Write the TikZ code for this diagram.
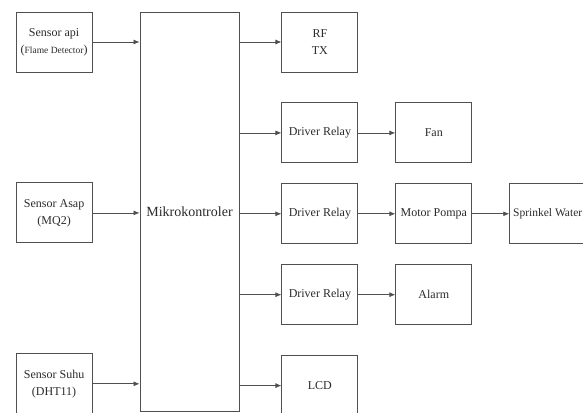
\documentclass[tikz,border=0pt]{standalone}
\usepackage{fontspec}
\setmainfont{Liberation Serif}
\usepackage{xcolor}
\usetikzlibrary{arrows.meta,positioning}
\definecolor{edge}{HTML}{505050}
\definecolor{ink}{HTML}{2A2A2A}

\begin{document}
\begin{tikzpicture}[
  x=1pt,y=1pt,
  box/.style={draw=edge,line width=0.9pt,align=center,minimum width=76pt,minimum height=60pt,inner sep=1pt,text=ink,font=\fontsize{12}{17}\selectfont},
  ctrl/.style={box,minimum width=99pt,minimum height=399pt,font=\fontsize{14}{17}\selectfont},
  arr/.style={-{Latex[length=6pt,width=5pt]},line width=0.8pt,draw=edge}
]
\useasboundingbox (0,0) rectangle (583,-412);
\node[ctrl] (mcu) at (189.5,-211.5) {Mikrokontroler};
% inputs
\node[box,left=47pt of mcu.north west,anchor=north east] (api) {Sensor api\\({\fontsize{9.5}{11}\selectfont Flame Detector})};
\node[box,below=110pt of api] (asap) {Sensor Asap\\(MQ2)};
\node[box,below=110pt of asap] (suhu) {Sensor Suhu\\(DHT11)};
% outputs
\node[box,right=42pt of mcu.north east,anchor=north west] (rf) {RF\\TX};
\node[box,below=30pt of rf] (drvfan) {Driver Relay};
\node[box,below=20pt of drvfan] (drvpompa) {Driver Relay};
\node[box,below=20pt of drvpompa] (drvalarm) {Driver Relay};
\node[box,below=30pt of drvalarm] (lcd) {LCD};
\node[box,right=37pt of drvfan] (fan) {Fan};
\node[box,right=37pt of drvpompa] (pompa) {Motor Pompa};
\node[box,right=37pt of drvalarm] (alarm) {Alarm};
\node[box,right=37pt of pompa,font=\fontsize{11.5}{14}\selectfont] (sprinkel) {Sprinkel Water};
\draw[arr] (api) -- (api -| mcu.west);
\draw[arr] (asap) -- (asap -| mcu.west);
\draw[arr] (suhu) -- (suhu -| mcu.west);
\draw[arr] (mcu.east |- rf) -- (rf);
\draw[arr] (mcu.east |- drvfan) -- (drvfan);
\draw[arr] (mcu.east |- drvpompa) -- (drvpompa);
\draw[arr] (mcu.east |- drvalarm) -- (drvalarm);
\draw[arr] (mcu.east |- lcd) -- (lcd);
\draw[arr] (drvfan) -- (fan);
\draw[arr] (drvpompa) -- (pompa);
\draw[arr] (drvalarm) -- (alarm);
\draw[arr] (pompa) -- (sprinkel);
\end{tikzpicture}
\end{document}
